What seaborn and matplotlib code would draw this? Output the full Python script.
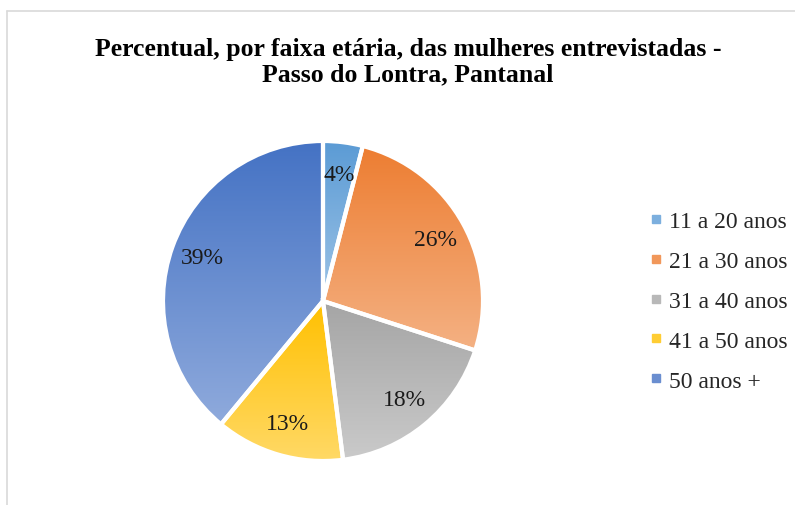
import numpy as np
import matplotlib
matplotlib.use("Agg")
import matplotlib.pyplot as plt
from matplotlib.colors import LinearSegmentedColormap, to_rgb
from matplotlib.lines import Line2D
import seaborn as sns

# data
labels = ['11 a 20 anos', '21 a 30 anos', '31 a 40 anos', '41 a 50 anos', '50 anos +']
values = [4, 26, 18, 13, 39]
title = 'Percentual, por faixa etária, das mulheres entrevistadas -\nPasso do Lontra, Pantanal'

# gradient colours (top -> bottom), Office style
top_colors = ['#5B9BD5', '#ED7D31', '#A5A5A5', '#FFC000', '#4472C4']
bottom_colors = ['#9DC3E6', '#F4B183', '#CACACA', '#FFD966', '#8FAADC']

sns.set_theme(style='white')
plt.rcParams['font.family'] = ['Liberation Serif', 'DejaVu Serif']

fig = plt.figure(figsize=(7.95, 5.06), dpi=100)
fig.patch.set_facecolor('white')

# chart frame (only left and top edges visible in reference)
fig.add_artist(Line2D([7 / 795, 7 / 795], [0, 1 - 12 / 506], color='#D9D9D9', lw=1.2))
fig.add_artist(Line2D([7 / 795, 1], [1 - 12 / 506, 1 - 12 / 506], color='#D9D9D9', lw=1.2))

fig.text(0.513, 1 - 62 / 506, title, ha='center', va='center', fontsize=18.5,
         fontweight='bold', linespacing=1.15, color='black')

cx, cy, r = 323, 302, 160
ax = fig.add_axes([(cx - r) / 795, (506 - cy - r) / 506, 2 * r / 795, 2 * r / 506])
wedges, texts, autotexts = ax.pie(values, startangle=90, counterclock=False,
                                  autopct='%1.0f%%', pctdistance=0.8,
                                  wedgeprops=dict(edgecolor='white', linewidth=3),
                                  textprops=dict(fontsize=17, color='#1a1a1a'))

for w, c_top, c_bot in zip(wedges, top_colors, bottom_colors):
    t1, t2 = np.deg2rad(w.theta1), np.deg2rad(w.theta2)
    ang = np.linspace(t1, t2, 100)
    xs = np.concatenate([[0], np.cos(ang)])
    ys = np.concatenate([[0], np.sin(ang)])
    cmap = LinearSegmentedColormap.from_list('g', [to_rgb(c_bot), to_rgb(c_top)])
    grad = np.linspace(1, 0, 256).reshape(-1, 1)
    im = ax.imshow(grad, cmap=cmap, vmin=0, vmax=1, aspect='auto',
                   extent=[xs.min(), xs.max(), ys.min(), ys.max()], zorder=1)
    im.set_clip_path(w)
    w.set_facecolor('none')
    w.set_zorder(2)
for t in autotexts:
    t.set_zorder(3)

ax.set_xlim(-1.0, 1.0)
ax.set_ylim(-1.0, 1.0)
ax.set_aspect('equal')
ax.axis('off')

mid_colors = [tuple((np.array(to_rgb(a)) + np.array(to_rgb(b))) / 2)
              for a, b in zip(top_colors, bottom_colors)]
handles = [Line2D([], [], marker='s', linestyle='none', markersize=6,
                  markerfacecolor=c, markeredgecolor=c) for c in mid_colors]
fig.legend(handles, labels, loc='center left', bbox_to_anchor=(637 / 795, 1 - 302 / 506),
           frameon=False, fontsize=17, labelspacing=0.78, handlelength=0.6,
           handletextpad=0.25, borderpad=0)

fig.savefig('out.png', dpi=100, facecolor='white')
